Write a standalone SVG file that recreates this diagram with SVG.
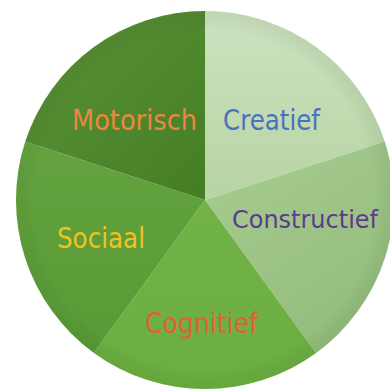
<svg xmlns="http://www.w3.org/2000/svg" width="390" height="391" viewBox="0 0 390 391">
<defs>
<style>
.lbl{font-family:"DejaVu Sans","Liberation Sans",sans-serif;font-size:28px}
</style>
<linearGradient id="gCre" x1="0" y1="0" x2="0" y2="1"><stop offset="0" stop-color="#cde2c0"/><stop offset="1" stop-color="#b7d4a4"/></linearGradient>
<linearGradient id="gCon" x1="0" y1="0" x2="0.6" y2="1"><stop offset="0" stop-color="#a8cc92"/><stop offset="1" stop-color="#93bd7c"/></linearGradient>
<linearGradient id="gCog" x1="0" y1="0" x2="0" y2="1"><stop offset="0" stop-color="#72b247"/><stop offset="1" stop-color="#6aae40"/></linearGradient>
<linearGradient id="gSoc" x1="0" y1="0" x2="0" y2="1"><stop offset="0" stop-color="#64a33f"/><stop offset="1" stop-color="#589a35"/></linearGradient>
<linearGradient id="gMot" x1="0" y1="0" x2="1" y2="1"><stop offset="0" stop-color="#5a9338"/><stop offset="1" stop-color="#457d24"/></linearGradient>
<radialGradient id="rim" cx="205" cy="200" r="189" gradientUnits="userSpaceOnUse"><stop offset="0.9" stop-color="#000" stop-opacity="0"/><stop offset="1" stop-color="#2a4a1a" stop-opacity="0.08"/></radialGradient>
</defs>
<rect width="390" height="391" fill="#ffffff"/>
<g id="creatief">
<path d="M205,200 L205,11 A189,189 0 0 1 384.75,141.6 Z" fill="url(#gCre)"/>
<text class="lbl" x="223" y="130" fill="#4a72c0" textLength="97" lengthAdjust="spacingAndGlyphs">Creatief</text>
</g>
<g id="constructief">
<path d="M205,200 L384.75,141.6 A189,189 0 0 1 316.09,352.9 Z" fill="url(#gCon)"/>
<text class="lbl" x="232" y="228" fill="#5e3a8e" style="font-size:24px" textLength="146" lengthAdjust="spacingAndGlyphs">Constructief</text>
</g>
<g id="cognitief">
<path d="M205,200 L316.09,352.9 A189,189 0 0 1 93.91,352.9 Z" fill="url(#gCog)"/>
<text class="lbl" x="145" y="333" fill="#e0603c" textLength="113" lengthAdjust="spacingAndGlyphs">Cognitief</text>
</g>
<g id="sociaal">
<path d="M205,200 L93.91,352.9 A189,189 0 0 1 25.25,141.6 Z" fill="url(#gSoc)"/>
<text class="lbl" x="57" y="248" fill="#f0c21e" textLength="88" lengthAdjust="spacingAndGlyphs">Sociaal</text>
</g>
<g id="motorisch">
<path d="M205,200 L25.25,141.6 A189,189 0 0 1 205,11 Z" fill="url(#gMot)"/>
<text class="lbl" x="72" y="130" fill="#ee8640" textLength="125" lengthAdjust="spacingAndGlyphs">Motorisch</text>
</g>
<circle cx="205" cy="200" r="189" fill="url(#rim)" pointer-events="none"/>
</svg>
